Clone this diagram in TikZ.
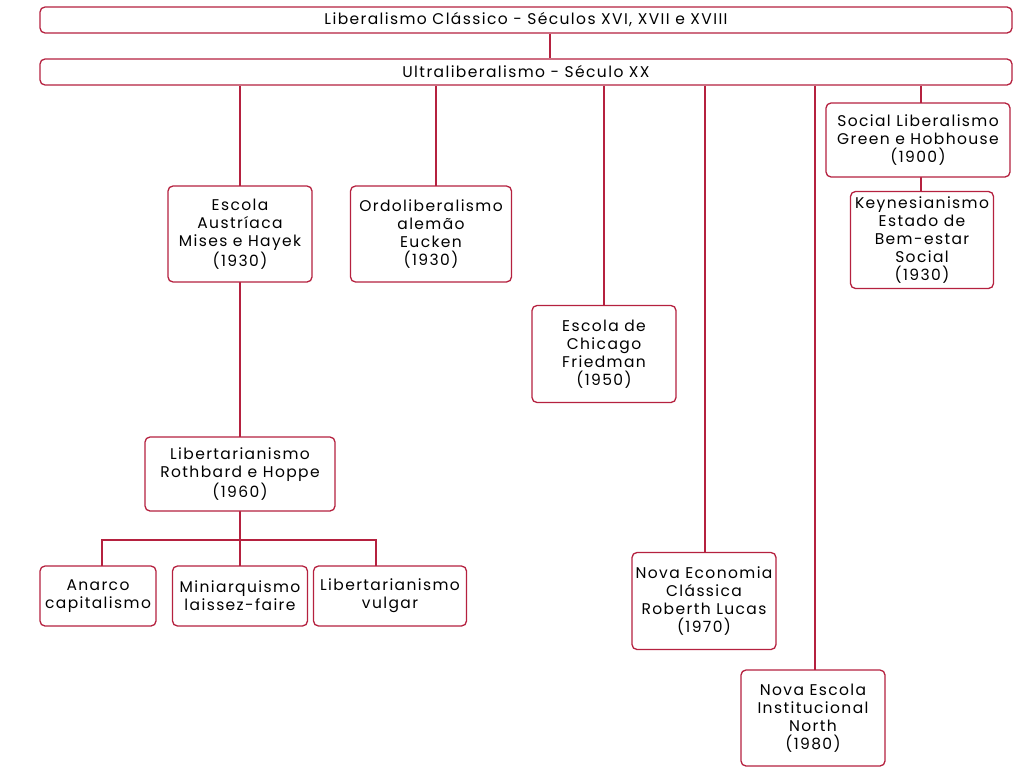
\documentclass[tikz,border=0pt]{standalone}
\usepackage{fontspec}
\setmainfont{Poppins}[LetterSpace=9]
\definecolor{wine}{HTML}{B5213F}
\begin{document}
\begin{tikzpicture}[x=1pt,y=-1pt,
    box/.style={draw=wine,line width=1.3pt,rounded corners=5pt,fill=white,align=center,
      font=\fontsize{15.5}{18}\selectfont,inner sep=1pt},
    link/.style={draw=wine,line width=2.4pt},
    thin link/.style={draw=wine,line width=1.2pt}]
  \useasboundingbox (0,0) rectangle (1024,768);
  % connectors
  \coordinate (bus) at (240,540);
  \node[box,minimum width=972,minimum height=26] (classic) at (526,20) {Liberalismo Clássico - Séculos XVI, XVII e XVIII};
  \node[box,minimum width=972,minimum height=26] (ultra) at (526,72) {Ultraliberalismo - Século XX};
  \draw[link] (classic.south -| 550,0) -- (ultra.north -| 550,0);
  \draw[link] (ultra.south -| 240,0) -- (bus);
  \draw[link] (ultra.south -| 436,0) -- (436,200);
  \draw[link] (ultra.south -| 604,0) -- (604,320);
  \draw[link] (ultra.south -| 705,0) -- (705,570);
  \draw[link] (ultra.south -| 815,0) -- (815,690);
  \draw[thin link] (ultra.south -| 921,0) -- (921,200);
  \draw[link] (102,580) |- (bus) -| (376,580);
  \draw[link] (bus) -- (240,580);
  % boxes
  \node[box,minimum width=144,minimum height=96] (austria) at (240,234) {Escola\\Austríaca\\Mises e Hayek\\(1930)};
  \node[box,minimum width=161,minimum height=96] (ordo) at (431,234) {Ordoliberalismo\\alemão\\Eucken\\(1930)};
  \node[box,minimum width=144,minimum height=97] (chicago) at (604,354) {Escola de\\Chicago\\Friedman\\(1950)};
  \node[box,minimum width=184,minimum height=74] (social) at (918,140) {Social Liberalismo\\Green e Hobhouse\\(1900)};
  \node[box,minimum width=143,minimum height=97] (keynes) at (922,240) {Keynesianismo\\Estado de\\Bem-estar\\Social\\(1930)};
  \draw[thin link] (social.south -| 921,0) -- (keynes.north -| 921,0);
  \node[box,minimum width=190,minimum height=74] (libert) at (240,474) {Libertarianismo\\Rothbard e Hoppe\\(1960)};
  \node[box,minimum width=116,minimum height=60] (anarco) at (98,596) {Anarco\\capitalismo};
  \node[box,minimum width=135,minimum height=60] (minarq) at (240,596) {Miniarquismo\\laissez-faire};
  \node[box,minimum width=153,minimum height=60] (vulgar) at (390,596) {Libertarianismo\\vulgar};
  \node[box,minimum width=144,minimum height=97] (novaeco) at (704,601) {Nova Economia\\Clássica\\Roberth Lucas\\(1970)};
  \node[box,minimum width=144,minimum height=96] (novainst) at (813,718) {Nova Escola\\Institucional\\North\\(1980)};
\end{tikzpicture}
\end{document}
